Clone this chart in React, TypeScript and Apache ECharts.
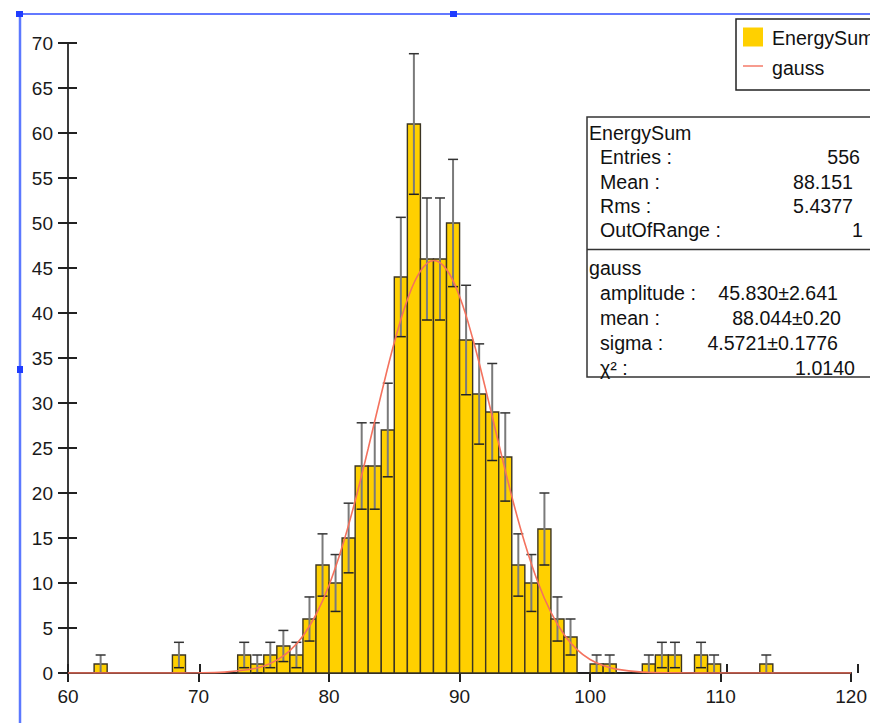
import React, { useEffect, useRef } from 'react';
import * as echarts from 'echarts';

// Histogram bins (left edge, bin width 1) that hold entries
const binLeft = [62, 68, 73, 74, 75, 76, 77, 78, 79, 80, 81, 82, 83, 84, 85, 86, 87, 88, 89, 90, 91, 92, 93, 94, 95, 96, 97, 98, 100, 101, 104, 105, 106, 108, 109, 113];
const binCount = [1, 2, 2, 1, 2, 3, 2, 6, 12, 10, 15, 23, 23, 27, 44, 61, 46, 46, 50, 37, 31, 29, 24, 12, 10, 16, 6, 4, 1, 1, 1, 2, 2, 2, 1, 1];
const binError = [1, 1.41, 1.41, 1, 1.41, 1.73, 1.41, 2.45, 3.46, 3.16, 3.87, 4.8, 4.8, 5.2, 6.63, 7.81, 6.78, 6.78, 7.07, 6.08, 5.57, 5.39, 4.9, 3.46, 3.16, 4, 2.45, 2, 1, 1, 1, 1.41, 1.41, 1.41, 1, 1];

// Fitted gauss curve
const gaussX = [60, 66, 70, 72, 74, 75, 76, 77, 78, 79, 80, 81, 82, 83, 84, 85, 86, 87, 88, 89, 90, 91, 92, 93, 94, 95, 96, 97, 98, 99, 100, 101, 102, 104, 106, 110, 120];
const gaussY = [0, 0, 0.02, 0.1, 0.41, 0.78, 1.43, 2.48, 4.11, 6.48, 9.75, 13.99, 19.13, 24.94, 31.0, 36.72, 41.47, 44.65, 45.83, 44.84, 41.83, 37.19, 31.52, 25.47, 19.62, 14.41, 10.08, 6.73, 4.28, 2.6, 1.5, 0.83, 0.43, 0.1, 0.02, 0, 0];

const statLabels = ['Entries :', 'Mean :', 'Rms :', 'OutOfRange :'];
const statValues = ['556', '88.151', '5.4377', '1'];
const fitLabels = ['amplitude :', 'mean :', 'sigma :', 'χ² :'];
const fitValues = ['45.830±2.641', '88.044±0.20', '4.5721±0.1776', '1.0140'];

const FONT = "'Liberation Sans', Arial, Helvetica, sans-serif";
const FS = 19.6;
const AFS = 19;

export default function App() {
  const ref = useRef<HTMLDivElement>(null);
  useEffect(() => {
    if (!ref.current) return;
    const chart = echarts.init(ref.current, undefined, { renderer: 'svg' });

    const statValRight = [860, 853, 853, 863];
    const fitValRight = [838, 841, 838, 855];
    const statY = [157, 182, 206, 230];
    const fitY = [293, 318, 343, 368];

    const txt = (text: string, x: number, y: number, align: string = 'left') => ({
      type: 'text',
      x,
      y,
      z: 20,
      style: { text, fill: '#111', font: `${FS}px ${FONT}`, textAlign: align, textVerticalAlign: 'middle' },
    });

    const graphics: any[] = [
      // blue selection frame
      { type: 'line', z: 30, shape: { x1: 19, y1: 14, x2: 870, y2: 14 }, style: { stroke: '#2f4dff', lineWidth: 1.5 } },
      { type: 'line', z: 30, shape: { x1: 20, y1: 14, x2: 20, y2: 723 }, style: { stroke: '#5b78ff', lineWidth: 2.5 } },
      { type: 'rect', z: 31, shape: { x: 16, y: 11, width: 7, height: 6 }, style: { fill: '#1f3cff' } },
      { type: 'rect', z: 31, shape: { x: 450, y: 11, width: 7, height: 6 }, style: { fill: '#1f3cff' } },
      { type: 'rect', z: 31, shape: { x: 17, y: 366, width: 6, height: 7 }, style: { fill: '#1f3cff' } },
      // legend box
      { type: 'rect', z: 19, shape: { x: 736, y: 19, width: 150, height: 71 }, style: { fill: '#fff', stroke: '#222', lineWidth: 1.5 } },
      { type: 'rect', z: 20, shape: { x: 743, y: 27.5, width: 20, height: 19 }, style: { fill: '#FFD000' } },
      { type: 'line', z: 20, shape: { x1: 743, y1: 66, x2: 763, y2: 66 }, style: { stroke: '#f47a68', lineWidth: 1.5 } },
      txt('EnergySum', 772, 38),
      txt('gauss', 772, 68),
      // stats box
      { type: 'rect', z: 19, shape: { x: 587, y: 117, width: 300, height: 260 }, style: { fill: '#fff', stroke: '#333', lineWidth: 1.5 } },
      { type: 'line', z: 20, shape: { x1: 587, y1: 249.5, x2: 870, y2: 249.5 }, style: { stroke: '#333', lineWidth: 1.5 } },
      txt('EnergySum', 589, 133),
      txt('gauss', 589, 268),
    ];
    statLabels.forEach((l, i) => {
      graphics.push(txt(l, 600, statY[i]));
      graphics.push(txt(statValues[i], statValRight[i], statY[i], 'right'));
    });
    fitLabels.forEach((l, i) => {
      graphics.push(txt(l, 600, fitY[i]));
      graphics.push(txt(fitValues[i], fitValRight[i], fitY[i], 'right'));
    });

    const gridPos = { left: 68, right: 12, top: 43, bottom: 50, containLabel: false };
    const axisColor = '#3a3a3a';

    chart.setOption({
      animation: false,
      backgroundColor: '#fff',
      grid: [gridPos, gridPos],
      xAxis: [
        {
          type: 'value', gridIndex: 0, min: 60, max: 120, interval: 10,
          axisLine: { show: true, onZero: false, lineStyle: { color: '#222', width: 2 } },
          axisTick: { show: true, inside: false, length: 9, lineStyle: { color: '#222', width: 2 } },
          axisLabel: { color: '#1a1a1a', fontSize: AFS, fontFamily: FONT, margin: 14 },
          splitLine: { show: false },
        },
        {
          type: 'value', gridIndex: 1, min: 60, max: 120, interval: 10,
          axisLine: { show: false },
          axisTick: { show: true, inside: true, length: 9, lineStyle: { color: '#222', width: 2 } },
          axisLabel: { show: false },
          splitLine: { show: false },
        },
      ],
      yAxis: [
        {
          type: 'value', gridIndex: 0, min: 0, max: 70, interval: 5,
          axisLine: { show: true, lineStyle: { color: axisColor, width: 2 } },
          axisTick: { show: true, inside: false, length: 10, lineStyle: { color: '#222', width: 2 } },
          axisLabel: { color: '#1a1a1a', fontSize: AFS, fontFamily: FONT, margin: 15 },
          splitLine: { show: false },
        },
        {
          type: 'value', gridIndex: 1, min: 0, max: 70, interval: 5,
          axisLine: { show: false },
          axisTick: { show: true, inside: true, length: 9, lineStyle: { color: '#222', width: 2 } },
          axisLabel: { show: false },
          splitLine: { show: false },
        },
      ],
      series: [
        {
          type: 'custom',
          name: 'EnergySum',
          xAxisIndex: 0, yAxisIndex: 0,
          z: 3,
          data: binLeft.map((x, i) => [x, binCount[i]]),
          encode: { x: 0, y: 1 },
          renderItem: (params: any, api: any) => {
            const x0 = api.value(0);
            const n = api.value(1);
            const p0 = api.coord([x0, n]);
            const p1 = api.coord([x0 + 1, 0]);
            return {
              type: 'rect',
              shape: { x: p0[0], y: p0[1], width: p1[0] - p0[0], height: p1[1] - p0[1] },
              style: { fill: '#FFD000', stroke: '#3b3523', lineWidth: 1.4 },
            };
          },
        },
        {
          type: 'custom',
          name: 'errors',
          xAxisIndex: 0, yAxisIndex: 0,
          z: 4,
          data: binLeft.map((x, i) => [x + 0.5, binCount[i], binError[i]]),
          encode: { x: 0, y: 1 },
          renderItem: (params: any, api: any) => {
            const xc = api.value(0);
            const n = api.value(1);
            const e = api.value(2);
            const top = api.coord([xc, n + e]);
            const bot = api.coord([xc, Math.max(0, n - e)]);
            const hw = 5;
            return {
              type: 'group',
              children: [
                { type: 'line', shape: { x1: top[0], y1: top[1], x2: bot[0], y2: bot[1] }, style: { stroke: '#7a7a7a', lineWidth: 2 } },
                { type: 'line', shape: { x1: top[0] - hw, y1: top[1], x2: top[0] + hw, y2: top[1] }, style: { stroke: '#333', lineWidth: 1.5 } },
                { type: 'line', shape: { x1: bot[0] - hw, y1: bot[1], x2: bot[0] + hw, y2: bot[1] }, style: { stroke: '#222', lineWidth: 1.5 } },
              ],
            };
          },
        },
        {
          type: 'line',
          name: 'gauss',
          xAxisIndex: 0, yAxisIndex: 0,
          z: 5,
          data: gaussX.map((x, i) => [x, gaussY[i]]),
          smooth: 0.4,
          symbol: 'none',
          lineStyle: { color: '#f4725e', width: 1.6 },
        },
      ],
      graphic: graphics,
    });
    return () => chart.dispose();
  }, []);
  return <div ref={ref} style={{ position: 'fixed', left: 0, top: 0, width: 870, height: 723, background: '#fff' }} />;
}
